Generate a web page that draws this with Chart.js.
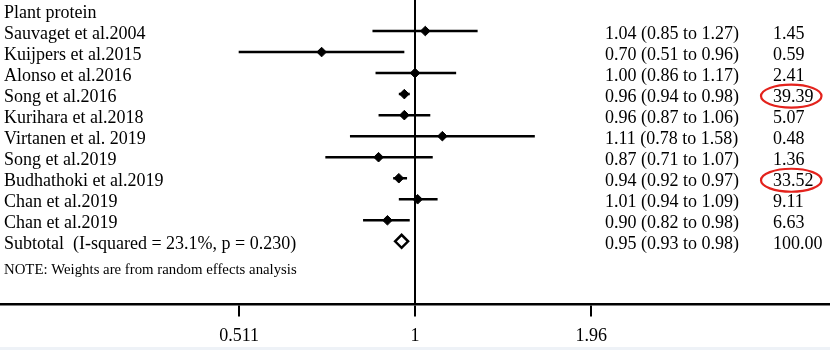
<!DOCTYPE html>
<html>
<head>
<meta charset="utf-8">
<script src="https://cdn.jsdelivr.net/npm/chart.js@4.4.1/dist/chart.umd.min.js"></script>
<style>
  html, body { margin: 0; padding: 0; background: #fff; }
  #wrap { position: relative; width: 830px; height: 350px; overflow: hidden; }
  #band { position: absolute; left: 0; top: 347px; width: 830px; height: 3px; background: #eef2f7; }
</style>
</head>
<body>
<div id="wrap">
  <canvas id="chart" width="830" height="356"></canvas>
  <div id="band"></div>
</div>
<script>
const heading = "Plant protein";
const studies = [
  "Sauvaget et al.2004",
  "Kuijpers et al.2015",
  "Alonso et al.2016",
  "Song et al.2016",
  "Kurihara et al.2018",
  "Virtanen et al. 2019",
  "Song et al.2019",
  "Budhathoki et al.2019",
  "Chan et al.2019",
  "Chan et al.2019",
];
const estimates = [1.04, 0.70, 1.00, 0.96, 0.96, 1.11, 0.87, 0.94, 1.01, 0.90];
const lower = [0.85, 0.51, 0.86, 0.94, 0.87, 0.78, 0.71, 0.92, 0.94, 0.82];
const upper = [1.27, 0.96, 1.17, 0.98, 1.06, 1.58, 1.07, 0.97, 1.09, 0.98];
const weights = ["1.45", "0.59", "2.41", "39.39", "5.07", "0.48", "1.36", "33.52", "9.11", "6.63"];
const subtotalLabel = "Subtotal  (I-squared = 23.1%, p = 0.230)";
const subtotal = [0.95, 0.93, 0.98];
const subtotalWeight = "100.00";
const note = "NOTE: Weights are from random effects analysis";
const xTicks = [0.511, 1, 1.96];
const circled = ["39.39", "33.52"];

const serif = '"Liberation Serif", "Times New Roman", serif';
const subtotalRow = studies.length + 1;
const fmt = (v) => v.toFixed(2);

// one short line per confidence interval
const ciSets = studies.map((s, i) => ({
  data: [{ x: lower[i], y: i + 1 }, { x: upper[i], y: i + 1 }],
  showLine: true,
  borderColor: "#000",
  borderWidth: 2.5,
  pointRadius: 0,
  pointHoverRadius: 0,
}));

const textColumns = {
  id: "textColumns",
  afterDraw(chart) {
    const ctx = chart.ctx;
    const y = chart.scales.y;
    const rowY = (r) => y.getPixelForValue(r) + 3;
    ctx.save();
    ctx.fillStyle = "#000";
    ctx.textBaseline = "middle";
    ctx.textAlign = "left";
    ctx.font = "18px " + serif;
    ctx.fillText(heading, 4, rowY(0));
    studies.forEach((s, i) => {
      const ry = rowY(i + 1);
      ctx.fillText(s, 4, ry);
      ctx.fillText(`${fmt(estimates[i])} (${fmt(lower[i])} to ${fmt(upper[i])})`, 605, ry);
      ctx.fillText(weights[i], 773, ry);
    });
    const sy = rowY(subtotalRow);
    ctx.fillText(subtotalLabel, 4, sy);
    ctx.fillText(`${fmt(subtotal[0])} (${fmt(subtotal[1])} to ${fmt(subtotal[2])})`, 605, sy);
    ctx.fillText(subtotalWeight, 773, sy);

    ctx.font = "14.8px " + serif;
    ctx.fillText(note, 4, rowY(subtotalRow + 1.24));

    // red hand-drawn circles around two weights
    ctx.font = "18px " + serif;
    ctx.strokeStyle = "#e3221c";
    ctx.lineWidth = 2.2;
    weights.forEach((w, i) => {
      if (!circled.includes(w)) return;
      const tw = ctx.measureText(w).width;
      ctx.beginPath();
      ctx.ellipse(771 + tw / 2, rowY(i + 1) - 1, tw / 2 + 10, 11.5, 0, 0, Math.PI * 2);
      ctx.stroke();
    });
    ctx.restore();
  },
};

new Chart(document.querySelector("#chart"), {
  type: "scatter",
  data: {
    datasets: [
      ...ciSets,
      {
        data: estimates.map((v, i) => ({ x: v, y: i + 1 })),
        pointStyle: "rectRot",
        pointRadius: 4.8,
        backgroundColor: "#000",
        borderColor: "#000",
        borderWidth: 1,
      },
      {
        data: [{ x: subtotal[0], y: subtotalRow }],
        pointStyle: "rectRot",
        pointRadius: 6.5,
        backgroundColor: "#fff",
        borderColor: "#000",
        borderWidth: 2.5,
      },
    ],
  },
  options: {
    responsive: false,
    animation: false,
    devicePixelRatio: 1,
    layout: { padding: 0, autoPadding: false },
    plugins: { legend: { display: false }, tooltip: { enabled: false } },
    scales: {
      x: {
        type: "logarithmic",
        position: "bottom",
        min: 0.205,
        max: 4.877,
        afterBuildTicks: (scale) => {
          scale.ticks = xTicks.map((v) => ({ value: v }));
        },
        afterFit: (scale) => {
          scale.paddingLeft = 0;
          scale.paddingRight = 0;
        },
        grid: {
          drawOnChartArea: true,
          color: (c) => (c.tick && c.tick.value === 1 ? "#000" : "rgba(0,0,0,0)"),
          lineWidth: 2,
          tickColor: "#000",
          tickWidth: 2,
          tickLength: 12,
        },
        border: { color: "#000", width: 2.5 },
        ticks: {
          autoSkip: false,
          maxRotation: 0,
          padding: 9,
          color: "#000",
          font: { family: serif, size: 18 },
          callback: (v) => String(v),
        },
      },
      y: {
        type: "linear",
        reverse: true,
        min: -0.476,
        max: 14,
        display: false,
        ticks: { display: false },
        afterFit: (scale) => {
          scale.paddingTop = 0;
          scale.paddingBottom = 0;
        },
      },
    },
  },
  plugins: [textColumns],
});
</script>
</body>
</html>
